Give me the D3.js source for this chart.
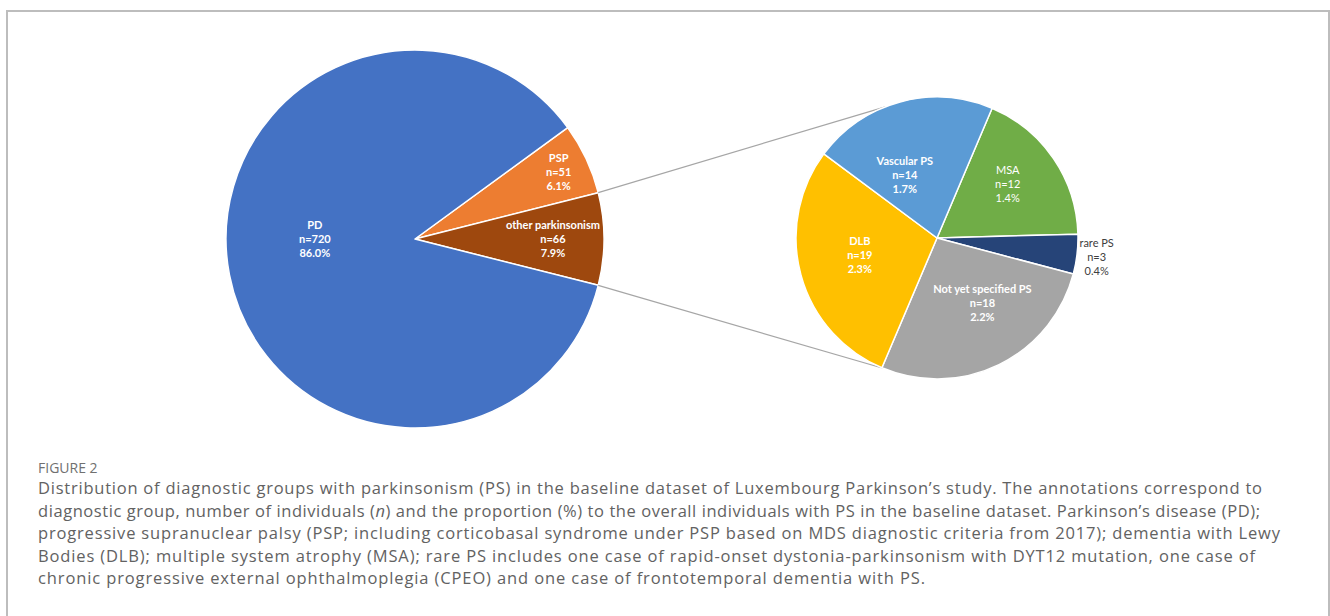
<!DOCTYPE html>
<html>
<head>
<meta charset="utf-8">
<script src="https://cdn.jsdelivr.net/npm/d3@7"></script>
<style>
  html, body { margin: 0; padding: 0; background: #fff; }
  svg { display: block; }
</style>
</head>
<body>
<svg id="chart" width="1330" height="616"></svg>
<script>
// main pie: all individuals with PS
const mainLabels = ["PSP", "other parkinsonism", "PD"];
const mainCounts = [51, 66, 720];

// secondary pie: breakdown of "other parkinsonism"
const subLabels = ["MSA", "rare PS", "Not yet specified PS", "DLB", "Vascular PS"];
const subCounts = [12, 3, 18, 19, 14];

const mainColors = ["#ED7D31", "#9E480E", "#4472C4"];
const subColors = ["#70AD47", "#264478", "#A5A5A5", "#FFC000", "#5B9BD5"];

const captionTitle = "FIGURE 2";
const captionLines = [
  [["Distribution of diagnostic groups with parkinsonism (PS) in the baseline dataset of Luxembourg Parkinson\u2019s study. The annotations correspond to", false]],
  [["diagnostic group, number of individuals (", false], ["n", true], [") and the proportion (%) to the overall individuals with PS in the baseline dataset. Parkinson\u2019s disease (PD);", false]],
  [["progressive supranuclear palsy (PSP; including corticobasal syndrome under PSP based on MDS diagnostic criteria from 2017); dementia with Lewy", false]],
  [["Bodies (DLB); multiple system atrophy (MSA); rare PS includes one case of rapid-onset dystonia-parkinsonism with DYT12 mutation, one case of", false]],
  [["chronic progressive external ophthalmoplegia (CPEO) and one case of frontotemporal dementia with PS.", false]]
];
const captionEnds = [1262, 1260, 1280, 1255, 925];

const total = d3.sum(mainCounts);
const pct = d3.format(".1%");
const deg = Math.PI / 180;

const svg = d3.select("#chart");

// figure frame (open at the bottom)
svg.append("path")
  .attr("d", "M7,640V11H1329V640")
  .attr("fill", "none")
  .attr("stroke", "#bdbdbd")
  .attr("stroke-width", 2);

const labelFont = "Lato, 'Liberation Sans', sans-serif";

// ---- main pie
const mainR = 189, mainC = [415, 239];
const otherAngle = mainCounts[1] / total * 2 * Math.PI;
const pspAngle = mainCounts[0] / total * 2 * Math.PI;
const mainStart = Math.PI / 2 - otherAngle / 2 - pspAngle;

const mainPie = d3.pie().sort(null)
  .startAngle(mainStart).endAngle(mainStart + 2 * Math.PI)
  .value(d => d.value);
const mainData = mainPie(mainLabels.map((l, i) => ({ label: l, value: mainCounts[i], color: mainColors[i] })));
const mainArc = d3.arc().innerRadius(0).outerRadius(mainR);

const gMain = svg.append("g").attr("transform", `translate(${mainC})`);
gMain.selectAll("path")
  .data(mainData)
  .enter().append("path")
  .attr("d", mainArc)
  .attr("fill", d => d.data.color)
  .attr("stroke", "#fff")
  .attr("stroke-width", 1.5)
  .attr("stroke-linejoin", "round");

// label placement: radius as a fraction of the pie radius, plus angle nudge (deg)
const mainLabelR = [0.84, 0.73, 0.53];
const mainLabelNudge = [0, 0, 11];
function addLabel(g, d, rFrac, nudge, r, fill, weight) {
  const a = (d.startAngle + d.endAngle) / 2 + nudge * deg;
  const x = Math.sin(a) * r * rFrac, y = -Math.cos(a) * r * rFrac;
  const t = g.append("text")
    .attr("x", x).attr("y", y)
    .attr("text-anchor", "middle")
    .style("font-family", labelFont)
    .style("font-size", "11px")
    .style("font-weight", weight)
    .attr("fill", fill);
  const lines = [d.data.label, "n=" + d.data.value, pct(d.data.value / total)];
  lines.forEach((s, i) => {
    t.append("tspan").attr("x", x).attr("dy", i === 0 ? -10 : 14).text(s);
  });
}
mainData.forEach((d, i) => addLabel(gMain, d, mainLabelR[i], mainLabelNudge[i], mainR, "#fff", "bold"));

// ---- secondary pie
const subR = 141, subC = [937, 238];
const subStart = 23 * deg;
const subPie = d3.pie().sort(null)
  .startAngle(subStart).endAngle(subStart + 2 * Math.PI)
  .value(d => d.value);
const subData = subPie(subLabels.map((l, i) => ({ label: l, value: subCounts[i], color: subColors[i] })));
const subArc = d3.arc().innerRadius(0).outerRadius(subR);

// connector lines from the split slice to the secondary pie
const otherSlice = mainData[1];
const conn = [
  [otherSlice.startAngle, 90 - 111.5],
  [otherSlice.endAngle, 90 + 112.5]
];
conn.forEach(([a1, a2d]) => {
  const a2 = a2d * deg;
  svg.append("line")
    .attr("x1", mainC[0] + Math.sin(a1) * mainR)
    .attr("y1", mainC[1] - Math.cos(a1) * mainR)
    .attr("x2", subC[0] + Math.sin(a2) * subR)
    .attr("y2", subC[1] - Math.cos(a2) * subR)
    .attr("stroke", "#a6a6a6")
    .attr("stroke-width", 1.2);
});

const gSub = svg.append("g").attr("transform", `translate(${subC})`);
gSub.selectAll("path")
  .data(subData)
  .enter().append("path")
  .attr("d", subArc)
  .attr("fill", d => d.data.color)
  .attr("stroke", "#fff")
  .attr("stroke-width", 1.5)
  .attr("stroke-linejoin", "round");

const subLabelR = [0.63, 1.14, 0.56, 0.56, 0.5];
const subLabelNudge = [-3, 0, -9, 3, -12];
const subLabelFill = ["#fff", "#404040", "#fff", "#fff", "#fff"];
const subLabelWeight = ["normal", "normal", "bold", "bold", "bold"];
subData.forEach((d, i) => addLabel(gSub, d, subLabelR[i], subLabelNudge[i], subR, subLabelFill[i], subLabelWeight[i]));

// ---- caption
const capFont = "'Open Sans', 'Noto Sans', sans-serif";
const capX = 38;
svg.append("text")
  .attr("x", capX).attr("y", 473)
  .style("font-family", capFont)
  .style("font-size", "14px")
  .attr("fill", "#707070")
  .text(captionTitle);

captionLines.forEach((parts, i) => {
  const t = svg.append("text")
    .attr("x", capX).attr("y", 494 + i * 22.5)
    .style("font-family", capFont)
    .style("font-size", "16.5px")
    .attr("fill", "#626262")
    .attr("textLength", captionEnds[i] - capX)
    .attr("lengthAdjust", "spacing");
  parts.forEach(([s, it]) => {
    t.append("tspan").style("font-style", it ? "italic" : "normal").text(s);
  });
});
</script>
</body>
</html>
